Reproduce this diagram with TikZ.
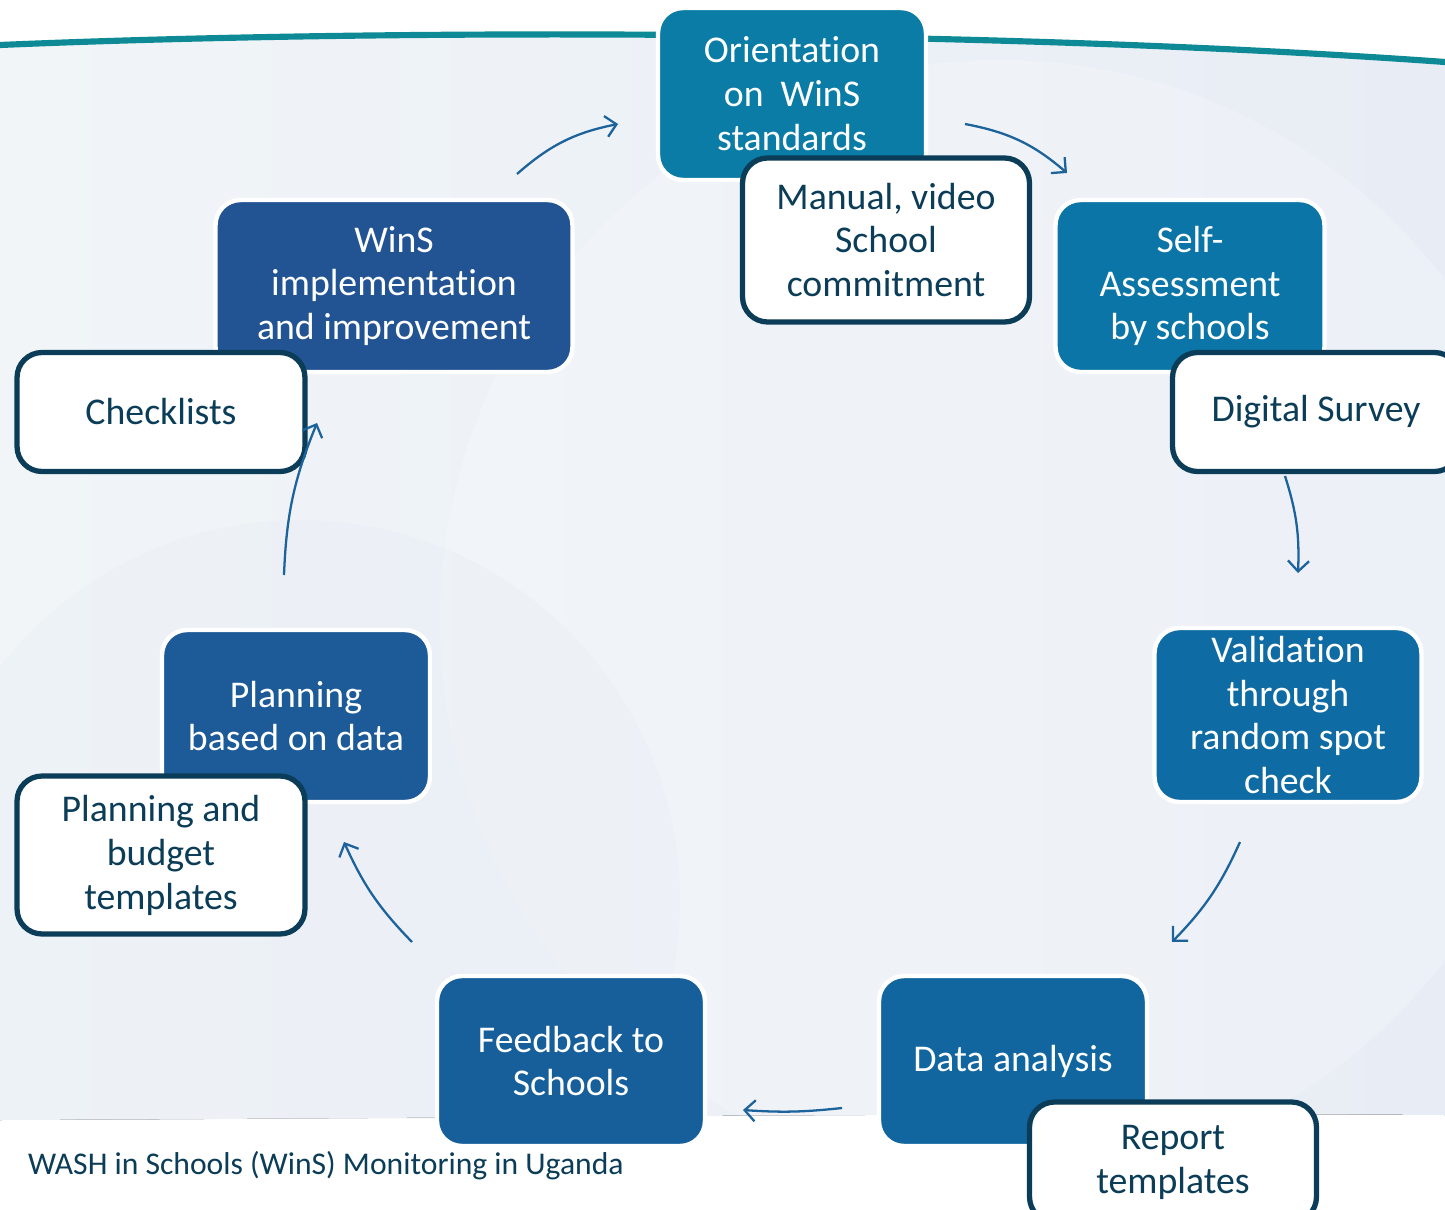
\documentclass[tikz,border=0pt]{standalone}
\usepackage{fontspec}
\setmainfont{Carlito}[Ligatures=NoCommon]
\usepackage{xcolor}
\usetikzlibrary{arrows.meta}

\definecolor{orientblue}{HTML}{0A7CA6}
\definecolor{selfblue}{HTML}{0A75A6}
\definecolor{validblue}{HTML}{0F6BA3}
\definecolor{analysisblue}{HTML}{1266A0}
\definecolor{feedbackblue}{HTML}{175F9B}
\definecolor{planblue}{HTML}{1C5A98}
\definecolor{winsblue}{HTML}{225494}
\definecolor{toolline}{HTML}{0B3D58}
\definecolor{arrowblue}{HTML}{1C629B}
\definecolor{arcteal}{HTML}{0E8A96}
\definecolor{bgleft}{HTML}{F1F5F8}
\definecolor{bgright}{HTML}{E8EDF5}

\begin{document}
\begin{tikzpicture}[x=0.02cm,y=-0.02cm]
\tikzset{stage/.style={rounded corners=0.5cm,draw=white,line width=2.5pt,text=white,align=center,inner sep=0pt,font=\fontsize{21.5}{25}\selectfont}}
\tikzset{tool/.style={rounded corners=0.5cm,fill=white,draw=toolline,line width=3pt,text=toolline,align=center,inner sep=0pt,font=\fontsize{21.5}{25}\selectfont}}
\tikzset{cycle arrow/.style={draw=arrowblue,line width=1.3pt,-{Straight Barb[length=6pt,width=12pt]},bend left=15}}

\useasboundingbox (0,0) rectangle (1445,1210);
\fill[white] (0,0) rectangle (1445,1210);
\fill[left color=bgleft,right color=bgright] (0,45) .. controls (400,28) and (1000,30) .. (1445,62) -- (1445,1115) .. controls (1000,1112) and (500,1118) .. (0,1120) -- cycle;
\begin{scope}
\clip (0,45) .. controls (400,28) and (1000,30) .. (1445,62) -- (1445,1115) -- (0,1120) -- cycle;
\fill[white,opacity=0.2] (1000,620) circle (560);
\fill[bgright,opacity=0.35] (300,900) circle (380);
\end{scope}
\draw[arcteal,line width=3.5pt] (0,45) .. controls (400,28) and (1000,30) .. (1445,62);

\node[stage,fill=orientblue,minimum width=5.36cm,minimum height=3.44cm] (orient) at (792,94) {Orientation\\on~ WinS\\standards};
\node[stage,fill=selfblue,minimum width=5.38cm,minimum height=3.44cm] (selfassess) at (1190,286) {Self-\\Assessment\\by schools};
\node[stage,fill=validblue,minimum width=5.34cm,minimum height=3.48cm] (valid) at (1288,715) {Validation\\through\\random spot\\check};
\node[stage,fill=analysisblue,minimum width=5.36cm,minimum height=3.4cm] (analysis) at (1013,1061) {Data analysis};
\node[stage,fill=feedbackblue,minimum width=5.36cm,minimum height=3.4cm] (feedback) at (571,1061) {Feedback to\\Schools};
\node[stage,fill=planblue,minimum width=5.36cm,minimum height=3.44cm] (plan) at (296,716) {Planning\\based on data};
\node[stage,fill=winsblue,minimum width=7.14cm,minimum height=3.44cm] (wins) at (394,286) {WinS\\implementation\\and improvement};

\node[tool,minimum width=5.74cm,minimum height=3.28cm] (manual) at (886,240) {Manual, video\\School\\commitment};
\node[tool,minimum width=5.74cm,minimum height=2.38cm] (survey) at (1316,412) {Digital Survey};
\node[tool,minimum width=5.74cm,minimum height=2.4cm] (report) at (1173,1162) {Report\\templates};
\node[tool,minimum width=5.76cm,minimum height=3.16cm] (budget) at (161,855) {Planning and\\budget\\templates};
\node[tool,minimum width=5.76cm,minimum height=2.38cm] (check) at (161,412) {Checklists};

\coordinate (w1) at (517,174);
\coordinate (w2) at (618,124);
\coordinate (o1) at (965,124);
\coordinate (o2) at (1067,173);
\coordinate (s1) at (1285,476);
\coordinate (s2) at (1298,573);
\coordinate (v1) at (1240,842);
\coordinate (v2) at (1172,942);
\coordinate (d1) at (842,1108);
\coordinate (d2) at (743,1110);
\coordinate (f1) at (412,942);
\coordinate (f2) at (344,842);
\coordinate (p1) at (284,575);
\coordinate (p2) at (317,423);

\draw[cycle arrow] (w1) to (w2);
\draw[cycle arrow] (o1) to (o2);
\draw[cycle arrow,bend left=10] (s1) to (s2);
\draw[cycle arrow,bend left=10] (v1) to (v2);
\draw[cycle arrow,bend left=5] (d1) to (d2);
\draw[cycle arrow,bend left=10] (f1) to (f2);
\draw[cycle arrow,bend left=10] (p1) to (p2);

\node[anchor=west,text=toolline,font=\fontsize{18}{21}\selectfont] (title) at (22,1166) {WASH in Schools (WinS) Monitoring in Uganda};

\end{tikzpicture}
\end{document}
